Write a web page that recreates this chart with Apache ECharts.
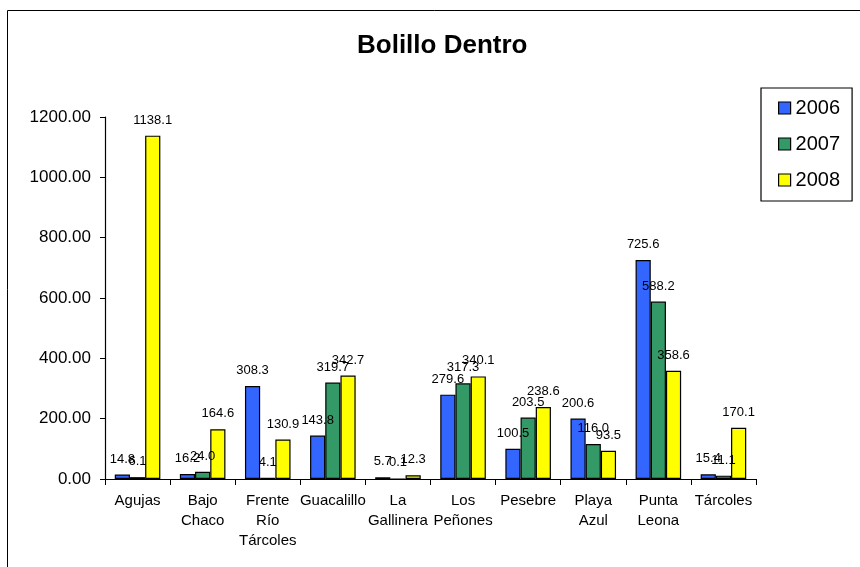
<!DOCTYPE html>
<html><head><meta charset="utf-8">
<script src="https://cdn.jsdelivr.net/npm/echarts@6/dist/echarts.min.js"></script>
<style>html,body{margin:0;padding:0;background:#fff}#c{width:860px;height:567px}</style>
</head><body><div id="c"></div>
<script>
var categories = ['Agujas','Bajo\nChaco','Frente\nRío\nTárcoles','Guacalillo','La\nGallinera','Los\nPeñones','Pesebre','Playa\nAzul','Punta\nLeona','Tárcoles'];
var s2006 = [14.8,16.2,308.3,143.8,5.7,279.6,100.5,200.6,725.6,15.4];
var s2007 = [6.1,24.0,4.1,319.7,0.1,317.3,203.5,116.0,588.2,11.1];
var s2008 = [1138.1,164.6,130.9,342.7,12.3,340.1,238.6,93.5,358.6,170.1];
var yTicks = [0,200,400,600,800,1000,1200];

var chart = echarts.init(document.getElementById('c'));
function ser(name, data, color){
  return {name:name,type:'bar',data:data,barGap:'0%',barCategoryGap:'30%',
    itemStyle:{color:color,borderColor:'#000',borderWidth:1.2},
    label:{show:true,position:'top',distance:9,color:'#000',fontFamily:'Arial, Liberation Sans',fontSize:13,
      formatter:function(p){return p.value.toFixed(1);}}};
}
chart.setOption({
  animation:false,
  title:{text:'Bolillo Dentro',left:352,top:28,textStyle:{fontFamily:'Arial, Liberation Sans',fontSize:26,fontWeight:'bold',color:'#000'}},
  legend:{orient:'vertical',left:761,top:88,padding:[10,12,11,17],itemGap:16,itemWidth:12,itemHeight:12,icon:'rect',
    borderColor:'#000',borderWidth:1.2,
    textStyle:{fontFamily:'Arial, Liberation Sans',fontSize:20,color:'#000',lineHeight:20},
    itemStyle:{borderColor:'#000',borderWidth:1.2}},
  grid:{left:105,right:104,top:117,bottom:88,containLabel:false},
  xAxis:{type:'category',data:categories,
    axisLine:{lineStyle:{color:'#000',width:1.2}},
    axisTick:{show:true,length:6,lineStyle:{color:'#000'}},
    axisLabel:{interval:0,color:'#000',fontFamily:'Arial, Liberation Sans',fontSize:15,lineHeight:20,margin:12}},
  yAxis:{type:'value',min:yTicks[0],max:yTicks[yTicks.length-1],interval:200,
    axisLine:{show:true,lineStyle:{color:'#000',width:1.2}},
    axisTick:{show:true,length:5,lineStyle:{color:'#000'}},
    splitLine:{show:false},
    axisLabel:{color:'#000',fontFamily:'Arial, Liberation Sans',fontSize:17,margin:14,formatter:function(v){return v.toFixed(2);}}},
  series:[ser('2006',s2006,'#3366FF'),ser('2007',s2007,'#339966'),ser('2008',s2008,'#FFFF00')],
  graphic:[{type:'rect',shape:{x:7.5,y:10.5,width:900,height:700},style:{fill:'none',stroke:'#000',lineWidth:1},silent:true}]
});
</script></body></html>
